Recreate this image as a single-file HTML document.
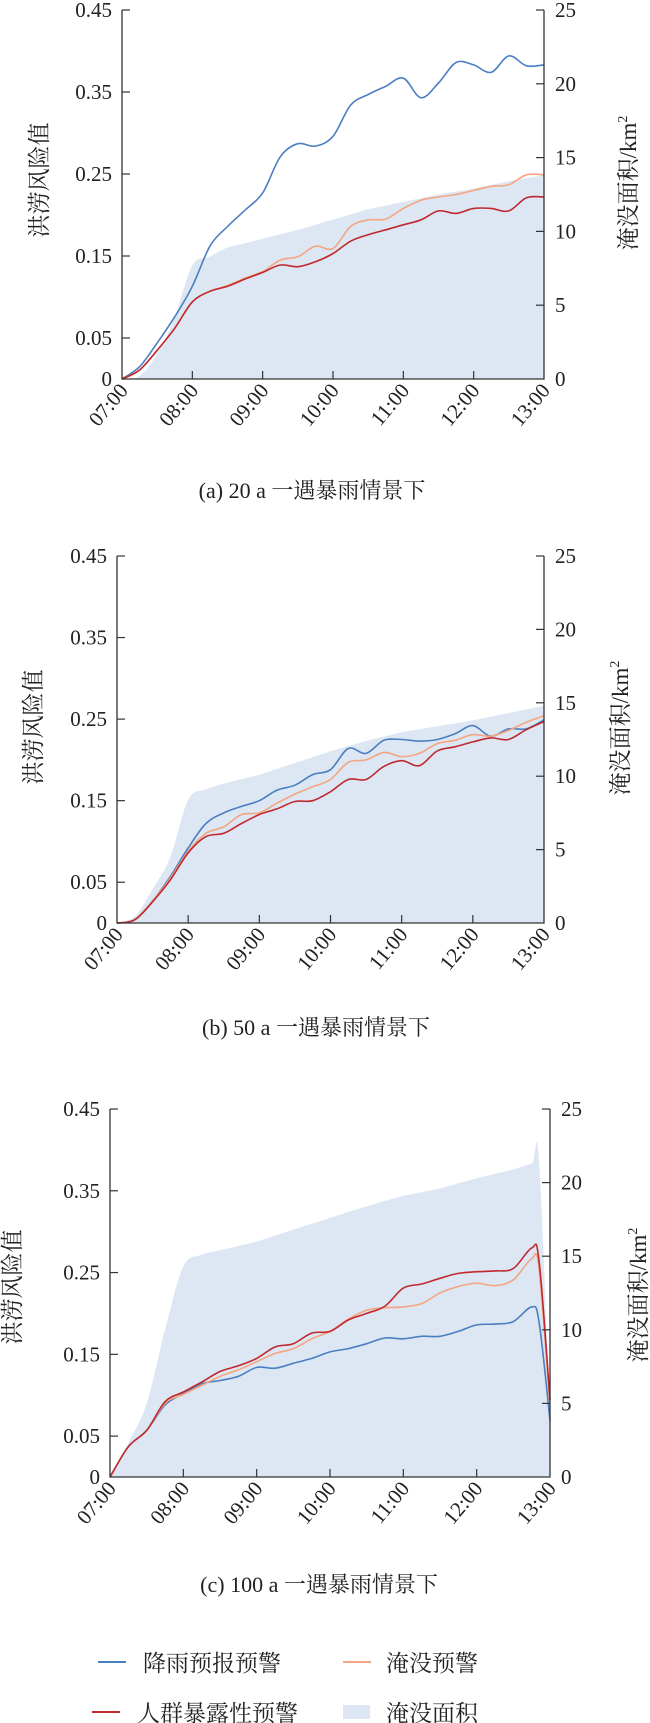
<!DOCTYPE html>
<html><head><meta charset="utf-8"><style>
html,body{margin:0;padding:0;background:#fff;}
svg{display:block;font-family:"Liberation Serif","Noto Serif CJK SC",serif;}
</style></head><body>
<svg id="fig" width="650" height="1723" viewBox="0 0 650 1723" xmlns="http://www.w3.org/2000/svg"></svg>
<script>
const tickLabels = ["07:00","08:00","09:00","10:00","11:00","12:00","13:00"];
const leftTicks = [0,0.05,0.15,0.25,0.35,0.45];
const leftTickText = ["0","0.05","0.15","0.25","0.35","0.45"];
const rightTicks = [0,5,10,15,20,25];

const timeA = [0,0.25,0.5,0.75,1,1.25,1.5,1.75,2,2.25,2.5,2.75,3,3.25,3.5,3.75,4,4.25,4.5,4.75,5,5.25,5.5,5.75,6];
const rainA = [0,0.015,0.044,0.076,0.113,0.162,0.186,0.206,0.227,0.271,0.287,0.284,0.296,0.334,0.347,0.357,0.367,0.343,0.361,0.386,0.383,0.374,0.394,0.382,0.383];
const floodA = [0,0.011,0.035,0.062,0.094,0.107,0.114,0.123,0.131,0.145,0.149,0.162,0.159,0.186,0.194,0.195,0.208,0.218,0.222,0.225,0.230,0.235,0.237,0.249,0.249];
const crowdA = [0,0.011,0.035,0.062,0.094,0.107,0.113,0.122,0.130,0.139,0.137,0.143,0.153,0.168,0.176,0.182,0.188,0.194,0.205,0.202,0.208,0.208,0.205,0.221,0.222];
const areaA = [0,0.2,1.7,4.2,7.7,8.3,8.9,9.2,9.5,9.8,10.1,10.45,10.8,11.15,11.5,11.75,12.0,12.25,12.5,12.7,12.9,13.15,13.4,13.6,13.8];

const timeB = timeA;
const rainB = [0,0.004,0.027,0.057,0.092,0.122,0.135,0.143,0.150,0.163,0.169,0.182,0.188,0.214,0.208,0.224,0.225,0.223,0.225,0.232,0.242,0.229,0.238,0.238,0.249];
const floodB = [0,0.004,0.027,0.055,0.088,0.110,0.118,0.133,0.135,0.147,0.158,0.167,0.176,0.197,0.200,0.209,0.204,0.208,0.220,0.224,0.231,0.229,0.236,0.246,0.254];
const crowdB = [0,0.004,0.026,0.053,0.086,0.106,0.110,0.122,0.133,0.140,0.149,0.150,0.161,0.176,0.176,0.192,0.199,0.193,0.211,0.216,0.222,0.227,0.225,0.237,0.247];
const areaB = [0,0.45,2.3,4.5,8.4,9.1,9.5,9.8,10.1,10.5,10.9,11.3,11.7,12.05,12.4,12.7,13.0,13.2,13.4,13.6,13.8,14.05,14.3,14.55,14.8];

const timeC = [0,0.25,0.5,0.75,1,1.25,1.5,1.75,2,2.25,2.5,2.75,3,3.25,3.5,3.75,4,4.25,4.5,4.75,5,5.25,5.5,5.75,5.85,6];
const rainC = [0,0.037,0.057,0.088,0.102,0.114,0.118,0.123,0.134,0.133,0.139,0.145,0.153,0.157,0.163,0.170,0.169,0.172,0.172,0.178,0.186,0.187,0.190,0.208,0.190,0.069];
const floodC = [0,0.037,0.057,0.090,0.101,0.112,0.123,0.131,0.141,0.151,0.157,0.169,0.178,0.193,0.204,0.207,0.208,0.212,0.225,0.233,0.237,0.234,0.241,0.267,0.255,0.085];
const crowdC = [0,0.037,0.057,0.092,0.104,0.116,0.129,0.136,0.145,0.159,0.163,0.176,0.178,0.192,0.200,0.209,0.231,0.236,0.243,0.249,0.251,0.252,0.255,0.280,0.265,0.094];
const areaC = [0,2.3,5.0,10.0,14.3,15.1,15.4,15.7,16.0,16.4,16.8,17.2,17.6,18.0,18.4,18.75,19.1,19.35,19.6,19.95,20.3,20.6,20.9,21.3,21.5,3.8];

const NS="http://www.w3.org/2000/svg";
const svg=document.getElementById('fig');
function mk(tag,attrs,parent){const e=document.createElementNS(NS,tag);for(const k in attrs)e.setAttribute(k,attrs[k]);(parent||svg).appendChild(e);return e;}
function smooth(pts){let d="M"+pts[0][0].toFixed(1)+","+pts[0][1].toFixed(1);
 for(let i=0;i<pts.length-1;i++){const p0=pts[Math.max(0,i-1)],p1=pts[i],p2=pts[i+1],p3=pts[Math.min(pts.length-1,i+2)];
  const c1=[p1[0]+(p2[0]-p0[0])/6,p1[1]+(p2[1]-p0[1])/6],c2=[p2[0]-(p3[0]-p1[0])/6,p2[1]-(p3[1]-p1[1])/6];
  d+="C"+c1[0].toFixed(1)+","+c1[1].toFixed(1)+" "+c2[0].toFixed(1)+","+c2[1].toFixed(1)+" "+p2[0].toFixed(1)+","+p2[1].toFixed(1);}
 return d;}

function panel(cfg){
 const g=mk('g',{});
 
 
 const {x0,x1,y0,yTop}=cfg;
 const xs=t=>x0+(x1-x0)*t/6;
 const yl=v=>y0-(y0-yTop)*v/0.45;
 const yr=v=>y0-(y0-yTop)*v/25;
 const apts=cfg.time.map((t,i)=>[xs(t),yr(cfg.area[i])]);
 const area=mk('path',{d:smooth(apts)+"L"+x1+","+y0+"L"+x0+","+y0+"Z",fill:"#dce7f3",stroke:"none"},g);
 
 
 const series=[[cfg.rain,"#4a7fc1","rain-forecast-line"],[cfg.flood,"#f4a582","inundation-warning-line"],[cfg.crowd,"#c0282d","crowd-exposure-line"]];
 series.forEach(s=>{
  const p=mk('path',{d:smooth(cfg.time.map((t,i)=>[xs(t),yl(s[0][i])])),fill:"none",stroke:s[1],"stroke-width":1.6},g);
  
  
 });
 const ax="#333";
 const fr=mk('path',{d:`M${x0},${yTop}V${y0}H${x1}V${yTop}`,fill:"none",stroke:ax,"stroke-width":1.3},g);
 
 
 leftTicks.forEach((v,i)=>{
  const y=yl(v);
  if(v>0)mk('line',{x1:x0,x2:x0+8,y1:y,y2:y,stroke:ax,"stroke-width":1.2},g);
  const t=mk('text',{x:x0-10,y:y+7,"text-anchor":"end","font-size":21,fill:"#222"},g);
  t.textContent=leftTickText[i];
  
  
 });
 rightTicks.forEach(v=>{
  const y=yr(v);
  if(v>0)mk('line',{x1:x1,x2:x1-8,y1:y,y2:y,stroke:ax,"stroke-width":1.2},g);
  const t=mk('text',{x:x1+11,y:y+7,"font-size":21,fill:"#222"},g);
  t.textContent=String(v);
  
  
 });
 tickLabels.forEach((lab,i)=>{
  const x=xs(i);
  if(i>0&&i<6)mk('line',{x1:x,x2:x,y1:y0,y2:y0-8,stroke:ax,"stroke-width":1.2},g);
  const t=mk('text',{x:x+7,y:y0+12,"text-anchor":"end","font-size":21,fill:"#222",transform:`rotate(-50 ${x+7} ${y0+12})`},g);
  t.textContent=lab;
  
  
 });
 const lt=mk('text',{x:0,y:0,"text-anchor":"middle","font-size":23,fill:"#222",transform:`translate(${cfg.ltx},${cfg.lty}) rotate(-90)`},g);
 lt.textContent="洪涝风险值";
 
 
 const rt=mk('text',{x:0,y:0,"text-anchor":"middle","font-size":23,fill:"#222",transform:`translate(${cfg.rtx},${cfg.rty}) rotate(-90)`},g);
 rt.innerHTML='淹没面积/km<tspan dy="-9" font-size="14">2</tspan>';
 
 
 const cap=mk('text',{x:cfg.capx,y:cfg.capy,"text-anchor":"middle","font-size":22,fill:"#222"},g);
 cap.textContent=cfg.caption;
 
 
}
panel({name:'panel-a',x0:122,x1:544,y0:379,yTop:10,time:timeA,rain:rainA,flood:floodA,crowd:crowdA,area:areaA,ltx:47,lty:180,rtx:636,rty:183,capx:312,capy:498,caption:"(a) 20 a 一遇暴雨情景下"});
panel({name:'panel-b',x0:117,x1:544,y0:923,yTop:556,time:timeB,rain:rainB,flood:floodB,crowd:crowdB,area:areaB,ltx:41,lty:727,rtx:628,rty:728,capx:316,capy:1035,caption:"(b) 50 a 一遇暴雨情景下"});
panel({name:'panel-c',x0:110,x1:550,y0:1477,yTop:1109,time:timeC,rain:rainC,flood:floodC,crowd:crowdC,area:areaC,ltx:20,lty:1287,rtx:646,rty:1295,capx:319,capy:1592,caption:"(c) 100 a 一遇暴雨情景下"});

const lg=mk('g',{});


const items=[[98,1662,"line","#4a7fc1","降雨预报预警","legend-rain-forecast",143],[343,1662,"line","#f4a582","淹没预警","legend-inundation-warning",386],[92,1712,"line","#c0282d","人群暴露性预警","legend-crowd-exposure",137],[343,1712,"rect","#dce7f3","淹没面积","legend-inundation-area",386]];
items.forEach(it=>{
 const e=mk('g',{},lg);
 
 
 if(it[2]==="line")mk('line',{x1:it[0],x2:it[0]+28,y1:it[1],y2:it[1],stroke:it[3],"stroke-width":2},e);
 else mk('rect',{x:it[0],y:it[1]-7,width:27,height:14,fill:it[3]},e);
 const t=mk('text',{x:it[6],y:it[1]+9,"font-size":23,fill:"#222"},e);
 t.textContent=it[4];
});
</script>
</body></html>
